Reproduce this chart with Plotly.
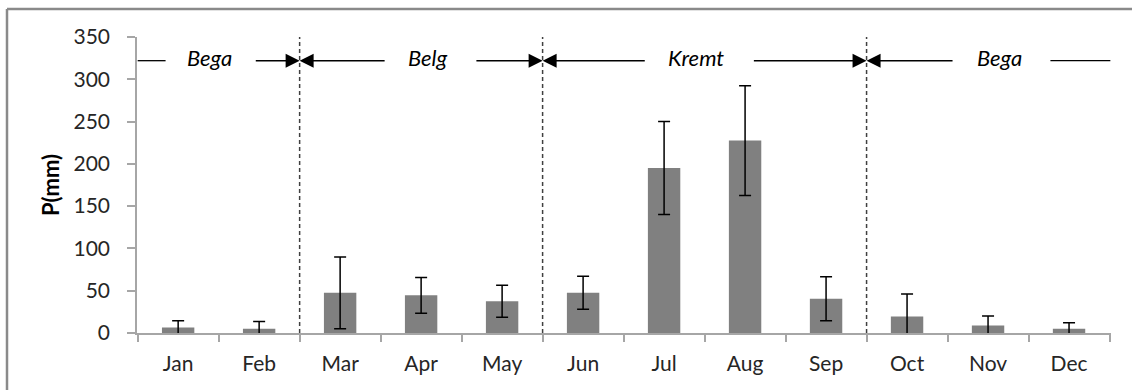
import plotly.graph_objects as go

# ---- data ----
months = ["Jan", "Feb", "Mar", "Apr", "May", "Jun", "Jul", "Aug", "Sep", "Oct", "Nov", "Dec"]
mean_p = [6.5, 5, 47.5, 44.5, 37.5, 47.5, 195, 227.5, 40.5, 19.5, 9, 5]
err_p = [8, 8.5, 42.5, 21, 19, 19.5, 55, 65, 26, 26.5, 11, 7]
y_ticks = [0, 50, 100, 150, 200, 250, 300, 350]

# season labels: (name, text centre, left line end, right line start)
season_names = ["Bega", "Belg", "Kremt", "Bega"]
season_bounds = [(-0.5, 1.5), (1.5, 4.5), (4.5, 8.5), (8.5, 11.51)]
season_text_x = [0.39, 3.085, 6.40, 10.14]
season_gap = [(-0.155, 0.94), (2.568, 3.664), (5.78, 7.09), (9.58, 10.77)]
season_y = 322
boundaries = [1.5, 4.5, 8.5]

FONT = "Lato"
AX = "#a6a6a6"

fig = go.Figure()
fig.add_trace(go.Bar(
    x=months, y=mean_p,
    marker=dict(color="#808080", line=dict(width=0)),
    error_y=dict(type="data", array=err_p, visible=True, color="black",
                 thickness=1.5, width=6),
    showlegend=False,
))

shapes = []
annotations = []
# dashed vertical separators
for b in boundaries:
    shapes.append(dict(type="line", xref="x", yref="y", x0=b, x1=b, y0=0, y1=350,
                       line=dict(color="#404040", width=1.5, dash="4px,3px")))

arrow_style = dict(showarrow=True, arrowhead=2, arrowsize=2.0, arrowwidth=1.4,
                   arrowcolor="black", standoff=0, text="")

# season lines, arrows and labels
for name, (lo, hi), tx, (g0, g1) in zip(season_names, season_bounds, season_text_x, season_gap):
    # left segment
    if lo in boundaries:
        annotations.append(dict(x=lo, y=season_y, ax=g0, ay=season_y, xref="x", yref="y",
                                axref="x", ayref="y", **arrow_style))
    else:
        shapes.append(dict(type="line", xref="x", yref="y", x0=lo, x1=g0,
                           y0=season_y, y1=season_y, line=dict(color="black", width=1.3)))
    # right segment
    if hi in boundaries:
        annotations.append(dict(x=hi, y=season_y, ax=g1, ay=season_y, xref="x", yref="y",
                                axref="x", ayref="y", **arrow_style))
    else:
        shapes.append(dict(type="line", xref="x", yref="y", x0=g1, x1=hi,
                           y0=season_y, y1=season_y, line=dict(color="black", width=1.3)))
    annotations.append(dict(x=tx, y=season_y, xref="x", yref="y", text="<i>" + name + "</i>",
                            showarrow=False, font=dict(family=FONT, size=22, color="black"),
                            yshift=3))

# outer chart border (top + left visible)
bx = (7 - 137) / 974
by = (333 - 9) / 296
shapes.append(dict(type="line", xref="paper", yref="paper", x0=bx, x1=1.1, y0=by, y1=by,
                   line=dict(color="#8a8a8a", width=2.5)))
shapes.append(dict(type="line", xref="paper", yref="paper", x0=bx, x1=bx, y0=-0.3, y1=by,
                   line=dict(color="#8a8a8a", width=2.5)))

fig.update_layout(
    width=1132, height=390,
    margin=dict(l=137, r=21, t=37, b=57),
    paper_bgcolor="white", plot_bgcolor="white",
    bargap=0.6,
    font=dict(family=FONT, size=21, color="#262626"),
    shapes=shapes, annotations=annotations,
    xaxis=dict(type="category", showline=True, linecolor=AX, linewidth=1.5,
               ticks="outside", ticklen=7, tickcolor=AX, tickwidth=1.5,
               tickson="boundaries", showgrid=False, ticklabelstandoff=11,
               tickfont=dict(family=FONT, size=21, color="#262626")),
    yaxis=dict(range=[0, 350], tickvals=y_ticks, showline=True, linecolor=AX, linewidth=1.5,
               ticks="outside", ticklen=8, tickcolor=AX, tickwidth=1.5, showgrid=False,
               zeroline=False, ticklabelstandoff=13,
               tickfont=dict(family=FONT, size=21, color="#262626"),
               title=dict(text="<b>P(mm)</b>", standoff=8,
                          font=dict(family=FONT, size=22, color="black"))),
)

fig.write_html("out.html")
